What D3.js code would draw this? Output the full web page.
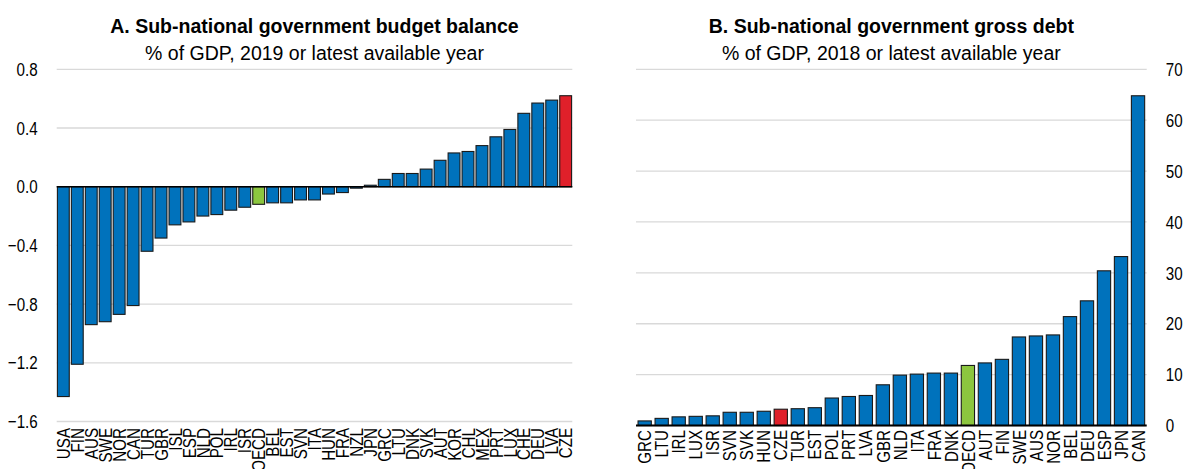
<!DOCTYPE html>
<html>
<head>
<meta charset="utf-8">
<script src="https://cdn.jsdelivr.net/npm/d3@7"></script>
<style>
  html, body { margin: 0; padding: 0; background: #fff; }
  svg { display: block; font-family: "Liberation Sans", Arial, sans-serif; }
</style>
</head>
<body>
<svg id="chart" width="1192" height="469"></svg>
<script>
// Panel A: sub-national government budget balance, % of GDP
const balanceCountries = ["USA","FIN","AUS","SWE","NOR","CAN","TUR","GBR","ISL","ESP","NLD","POL","IRL","ISR","OECD","BEL","EST","SVN","ITA","HUN","FRA","NZL","JPN","GRC","LTU","DNK","SVK","AUT","KOR","CHL","MEX","PRT","LUX","CHE","DEU","LVA","CZE"];
const balanceValues = [-1.43,-1.21,-0.94,-0.92,-0.87,-0.81,-0.44,-0.35,-0.26,-0.24,-0.20,-0.19,-0.16,-0.14,-0.12,-0.11,-0.11,-0.09,-0.09,-0.05,-0.04,-0.01,0.01,0.05,0.09,0.09,0.12,0.18,0.23,0.24,0.28,0.34,0.39,0.50,0.57,0.59,0.62];
const balanceTicks = [-1.6,-1.2,-0.8,-0.4,0,0.4,0.8];

// Panel B: sub-national government gross debt, % of GDP
const debtCountries = ["GRC","LTU","IRL","LUX","ISR","SVN","SVK","HUN","CZE","TUR","EST","POL","PRT","LVA","GBR","NLD","ITA","FRA","DNK","OECD","AUT","FIN","SWE","AUS","NOR","BEL","DEU","ESP","JPN","CAN"];
const debtValues = [0.9,1.4,1.7,1.8,1.9,2.6,2.6,2.8,3.2,3.3,3.5,5.4,5.7,5.9,8.0,9.9,10.1,10.3,10.3,11.8,12.3,13.0,17.4,17.6,17.8,21.4,24.5,30.4,33.2,64.8];
const debtTicks = [0,10,20,30,40,50,60,70];

const COLOR_BAR = "#0072BC";
const COLOR_OECD = "#8CC63F";
const COLOR_CZE = "#E0202A";
const fillFor = c => c === "OECD" ? COLOR_OECD : (c === "CZE" ? COLOR_CZE : COLOR_BAR);

// axis texts use a condensed rendering of the sans face
const NARROW = 0.82;

const svg = d3.select("#chart");

function drawPanel(opts) {
  const { countries, values, ticks, x0, x1, yDomain, yRange, axisSide, fmt,
          title, subtitle, padInner, padOuter, labelGap } = opts;
  const g = svg.append("g");

  const x = d3.scaleBand().domain(countries).range([x0, x1])
    .paddingInner(padInner).paddingOuter(padOuter);
  const y = d3.scaleLinear().domain(yDomain).range(yRange);

  // gridlines
  g.append("g").selectAll("line").data(ticks).join("line")
    .attr("x1", x0).attr("x2", x1)
    .attr("y1", d => y(d)).attr("y2", d => y(d))
    .attr("stroke", "#d9d9d9").attr("stroke-width", 1.3);

  // tick labels
  const tx = axisSide === "left" ? x0 - 19 : x1 + 19;
  g.append("g").attr("font-size", 18.5).attr("fill", "#000")
    .selectAll("text").data(ticks).join("text")
    .attr("transform", d => `translate(${tx},${y(d)}) scale(${NARROW},1)`)
    .attr("dy", "0.36em")
    .attr("text-anchor", axisSide === "left" ? "end" : "start")
    .text(d => fmt(d));

  // bars
  const data = countries.map((c, i) => ({ c, v: values[i] }));
  g.append("g").selectAll("rect").data(data).join("rect")
    .attr("x", d => x(d.c))
    .attr("width", x.bandwidth())
    .attr("y", d => Math.min(y(0), y(d.v)))
    .attr("height", d => Math.abs(y(d.v) - y(0)))
    .attr("fill", d => fillFor(d.c))
    .attr("stroke", "#1a1a1a").attr("stroke-width", 1.1);

  // zero line
  g.append("line")
    .attr("x1", x0).attr("x2", x1)
    .attr("y1", y(0)).attr("y2", y(0))
    .attr("stroke", "#000").attr("stroke-width", axisSide === "left" ? 1.5 : 2);

  // category labels, rotated
  const baseY = y(yDomain[0]) + labelGap;
  g.append("g").attr("font-size", 18.5).attr("fill", "#000")
    .selectAll("text").data(countries).join("text")
    .attr("transform", d => `translate(${x(d) + x.bandwidth() / 2},${baseY}) rotate(-90) scale(${NARROW},1)`)
    .attr("text-anchor", "end")
    .attr("dy", "0.36em")
    .text(d => d);

  // titles
  const cx = (x0 + x1) / 2;
  g.append("text").attr("x", cx).attr("y", 32.5)
    .attr("text-anchor", "middle").attr("font-size", 19.5).attr("font-weight", "bold")
    .text(title);
  g.append("text").attr("x", cx).attr("y", 60)
    .attr("text-anchor", "middle").attr("font-size", 19.5)
    .text(subtitle);
}

drawPanel({
  countries: balanceCountries, values: balanceValues, ticks: balanceTicks,
  x0: 56.7, x1: 572.3, yDomain: [-1.6, 0.8], yRange: [421.5, 69.3],
  axisSide: "left", fmt: d3.format(".1f"),
  title: "A. Sub-national government budget balance",
  subtitle: "% of GDP, 2019 or latest available year",
  padInner: 0.15, padOuter: 0.05, labelGap: 6.5
});

drawPanel({
  countries: debtCountries, values: debtValues, ticks: debtTicks,
  x0: 636, x1: 1146.7, yDomain: [0, 70], yRange: [425.5, 69.3],
  axisSide: "right", fmt: d3.format("d"),
  title: "B. Sub-national government gross debt",
  subtitle: "% of GDP, 2018 or latest available year",
  padInner: 0.22, padOuter: 0.12, labelGap: 4.5
});
</script>
</body>
</html>
